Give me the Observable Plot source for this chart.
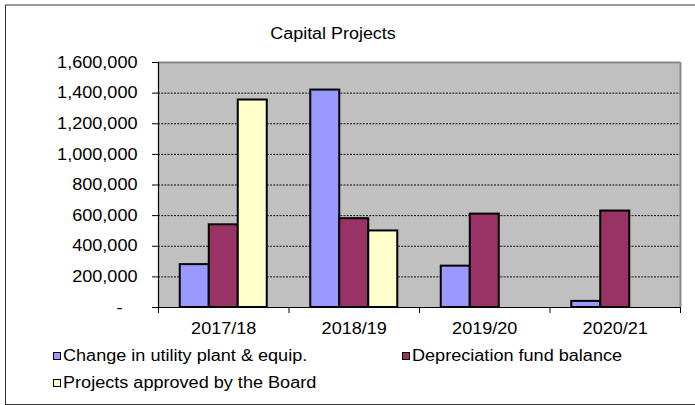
<!DOCTYPE html>
<html>
<head>
<meta charset="utf-8">
<script src="https://cdn.jsdelivr.net/npm/d3@7"></script>
<script src="https://cdn.jsdelivr.net/npm/@observablehq/plot@0.6"></script>
<style>
  body { margin: 0; background: #fff; }
  #wrap { position: relative; width: 695px; height: 405px; overflow: hidden;
          font-family: "Liberation Sans", Arial, sans-serif; color: #000; }
  #frame { position: absolute; left: 5px; top: 4px; width: 720px; height: 398px;
           border-left: 1.5px solid #333; border-bottom: 1.5px solid #333; border-top: 2px solid #999; }
  #title { position: absolute; left: 0; width: 667px; top: 24px; text-align: center; font-size: 16px; line-height: 20px; }
  #title span { display: inline-block; transform: scaleX(1.12); transform-origin: center; }
  #chart { position: absolute; left: 0; top: 50px; }
  .leg { position: absolute; font-size: 16px; line-height: 20px; white-space: nowrap; }
  .leg .txt { display: inline-block; transform: scaleX(1.13); transform-origin: left; }
  .sw { display: inline-block; width: 6px; height: 6px; border: 1px solid #000; margin-right: 2px; vertical-align: 1px; }
</style>
</head>
<body>
<div id="wrap">
  <div id="frame"></div>
  <div id="title"><span>Capital Projects</span></div>
  <div id="chart"></div>
  <div id="legend"></div>
</div>
<script>
const years = ["2017/18", "2018/19", "2019/20", "2020/21"];
const seriesNames = ["Change in utility plant & equip.", "Depreciation fund balance", "Projects approved by the Board"];
const changeUtility = [280000, 1420000, 270000, 40000];
const depreciationFund = [540000, 580000, 610000, 630000];
const projectsApproved = [1355000, 500000, null, null];
const yTicks = [0, 200000, 400000, 600000, 800000, 1000000, 1200000, 1400000, 1600000];
const colors = ["#9999FF", "#993366", "#FFFFCC"];

const seriesValues = [changeUtility, depreciationFund, projectsApproved];
const data = [];
years.forEach((year, i) => {
  seriesValues.forEach((vals, j) => {
    if (vals[i] != null) data.push({year, i, j, series: seriesNames[j], value: vals[i]});
  });
});

// Excel-style clustered columns: gap width 150% -> bar = 1/4.5 of a category
const n = seriesNames.length;
const unit = n + 1.5;
const fmt = d3.format(",");
const stretch = 1.13; // the reference text is horizontally stretched

const chart = Plot.plot({
  width: 695,
  height: 295,
  marginLeft: 158,
  marginRight: 15,
  marginTop: 12,
  marginBottom: 38,
  style: { fontFamily: "'Liberation Sans', Arial, sans-serif", fontSize: "16px", color: "#000", background: "transparent" },
  x: { type: "linear", domain: [0, years.length] },
  y: { domain: [0, 1600000] },
  color: { domain: seriesNames, range: colors },
  marks: [
    Plot.frame({ fill: "#c0c0c0", stroke: null }),
    Plot.ruleY(yTicks.filter(t => t > 0 && t < 1600000), { stroke: "#111", strokeWidth: 1, strokeDasharray: "2,1.2" }),
    Plot.rectY(data, {
      x1: d => d.i + (0.75 + d.j) / unit,
      x2: d => d.i + (1.75 + d.j) / unit,
      y: "value",
      fill: "series",
      stroke: "#000",
      strokeWidth: 2
    }),
    Plot.ruleY([1600000], { stroke: "#8a8a8a", strokeWidth: 2 }),
    Plot.ruleX([years.length], { stroke: "#8a8a8a", strokeWidth: 2 }),
    Plot.ruleX([0], { stroke: "#000", strokeWidth: 1.2 }),
    Plot.ruleY([0], { stroke: "#000", strokeWidth: 1.2 }),
    Plot.axisY({
      ticks: yTicks,
      tickSize: 6,
      tickPadding: 15,
      tickFormat: d => d === 0 ? "-\u2007\u00a0" : fmt(d),
      label: null
    }),
    Plot.axisX({ ticks: d3.range(years.length + 1), tickSize: 6, tickFormat: () => "", label: null }),
    Plot.axisX({
      ticks: years.map((_, i) => i + 0.5),
      tickSize: 0,
      tickPadding: 15,
      tickFormat: v => years[Math.floor(v)],
      label: null
    })
  ]
});
// stretch every label horizontally about its own anchor point
chart.querySelectorAll("text").forEach(t => {
  let x = parseFloat(t.getAttribute("x"));
  if (!isFinite(x)) x = 0;
  const prev = t.getAttribute("transform") || "";
  t.setAttribute("transform", `${prev} translate(${x},0) scale(${stretch},1) translate(${-x},0)`.trim());
});
document.getElementById("chart").appendChild(chart);

// legend
const legendPos = [
  { left: 53, top: 346 },
  { left: 402, top: 346 },
  { left: 53, top: 373 }
];
const legend = document.getElementById("legend");
seriesNames.forEach((name, j) => {
  const el = document.createElement("div");
  el.className = "leg";
  el.style.left = legendPos[j].left + "px";
  el.style.top = legendPos[j].top + "px";
  const sw = document.createElement("span");
  sw.className = "sw";
  sw.style.background = colors[j];
  el.appendChild(sw);
  const txt = document.createElement("span");
  txt.className = "txt";
  txt.textContent = name;
  el.appendChild(txt);
  legend.appendChild(el);
});
</script>
</body>
</html>
